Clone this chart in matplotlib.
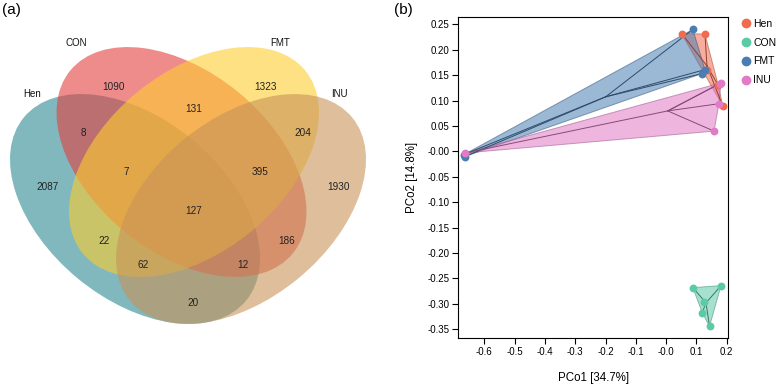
import numpy as np
import matplotlib
matplotlib.use('Agg')
import matplotlib.pyplot as plt
from matplotlib.patches import Ellipse, Polygon
from matplotlib.lines import Line2D

plt.rcParams['font.family'] = ['Liberation Sans', 'DejaVu Sans']

# ---- venn data ----
set_names = ['Hen', 'CON', 'FMT', 'INU']
set_colors = ['#2b8a93', '#e33f3f', '#fccd2f', '#c89358']
region_names = ['Hen', 'CON', 'FMT', 'INU',
                'Hen&CON', 'CON&FMT', 'FMT&INU', 'Hen&FMT', 'Hen&INU', 'CON&INU',
                'Hen&CON&FMT', 'CON&FMT&INU', 'Hen&FMT&INU', 'Hen&CON&INU', 'all']
region_counts = [2087, 1090, 1323, 1930,
                 8, 131, 204, 22, 20, 186,
                 7, 395, 62, 12, 127]

# ---- pcoa data ----
groups = ['Hen', 'CON', 'FMT', 'INU']
group_colors = ['#f26b4e', '#5cc9a7', '#4a7eb3', '#e07bc6']
hen_x = [0.051, 0.128, 0.187, 0.172, 0.135]
hen_y = [0.232, 0.231, 0.089, 0.130, 0.160]
con_x = [0.088, 0.181, 0.126, 0.119, 0.143]
con_y = [-0.268, -0.264, -0.297, -0.317, -0.344]
fmt_x = [0.088, 0.128, 0.117, -0.667, -0.664]
fmt_y = [0.240, 0.161, 0.153, -0.006, -0.010]
inu_x = [0.176, 0.181, 0.174, 0.158, -0.663]
inu_y = [0.133, 0.135, 0.094, 0.040, -0.003]
pc1_label = 'PCo1 [34.7%]'
pc2_label = 'PCo2 [14.8%]'


def hull(pts):
    pts = sorted(set(map(tuple, pts)))
    def cross(o, a, b):
        return (a[0]-o[0])*(b[1]-o[1]) - (a[1]-o[1])*(b[0]-o[0])
    lower, upper = [], []
    for p in pts:
        while len(lower) >= 2 and cross(lower[-2], lower[-1], p) <= 0:
            lower.pop()
        lower.append(p)
    for p in reversed(pts):
        while len(upper) >= 2 and cross(upper[-2], upper[-1], p) <= 0:
            upper.pop()
        upper.append(p)
    return np.array(lower[:-1] + upper[:-1])


def darker(c, f=0.7):
    r, g, b = matplotlib.colors.to_rgb(c)
    return (r*f, g*f, b*f)


fig = plt.figure(figsize=(7.78, 3.84), dpi=100)

# ---------------- (a) venn ----------------
ax = fig.add_axes([0, 0, 390/778, 1])
ax.set_xlim(0, 390)
ax.set_ylim(384, 0)
ax.axis('off')

centers = [(135, 209), (181.5, 162), (194, 162), (241, 209)]
angles = [39.5, 39.5, -39.5, -39.5]
for c, ang, col in zip(centers, angles, set_colors):
    ax.add_patch(Ellipse(c, 288, 180, angle=ang, facecolor=col, alpha=0.6, lw=0))

label_pos = [(32, 94), (76, 43), (280, 43), (339, 94)]
for (x, y), name in zip(label_pos, set_names):
    ax.text(x, y, name, fontsize=7, ha='center', va='center', color='#111111')

count_pos = [(48, 187), (114, 87), (266, 87), (339, 187),
             (83, 133), (194, 109), (303, 133), (104, 241), (193, 303), (287, 241),
             (126, 172), (260, 172), (143, 265), (243, 265), (194, 211)]
for (x, y), n in zip(count_pos, region_counts):
    ax.text(x, y, str(n), fontsize=7.2, ha='center', va='center', color='#222222')

fig.text(0.002, 0.975, '(a)', fontsize=11, ha='left', va='center')
fig.text(0.506, 0.975, '(b)', fontsize=11, ha='left', va='center')

# ---------------- (b) pcoa ----------------
ax2 = fig.add_axes([458.3/778, 1-337.7/384, 270/778, 320.4/384])
data = [(hen_x, hen_y), (con_x, con_y), (fmt_x, fmt_y), (inu_x, inu_y)]
for (gx, gy), col in zip(data, group_colors):
    pts = np.column_stack([gx, gy])
    h = hull(pts)
    ax2.add_patch(Polygon(h, closed=True, facecolor=col, alpha=0.55,
                          edgecolor=darker(col), lw=0.7, zorder=2))
    cx, cy = pts.mean(axis=0)
    for px, py in pts:
        ax2.plot([cx, px], [cy, py], color=darker(col, 0.6), lw=0.7, zorder=3)
for (gx, gy), col in zip(data, group_colors):
    ax2.scatter(gx, gy, s=32, color=col, zorder=4, lw=0)

ax2.set_xlim(-0.686, 0.205)
ax2.set_ylim(-0.3665, 0.264)
ax2.set_xticks(np.arange(-0.6, 0.21, 0.1))
ax2.set_yticks(np.arange(-0.35, 0.26, 0.05))
ax2.xaxis.set_major_formatter(matplotlib.ticker.FormatStrFormatter('%.1f'))
ax2.yaxis.set_major_formatter(matplotlib.ticker.FormatStrFormatter('%.2f'))
ax2.tick_params(labelsize=7, length=4, width=0.8, direction='out', pad=2.5)
for s in ax2.spines.values():
    s.set_linewidth(0.8)
ax2.set_xlabel(pc1_label, fontsize=8.3, labelpad=11)
ax2.set_ylabel(pc2_label, fontsize=8.3, labelpad=7)

handles = [Line2D([], [], marker='o', ls='', color=c, markersize=6) for c in group_colors]
fig.legend(handles, groups, loc='upper left', bbox_to_anchor=(0.947, 0.962),
           frameon=False, fontsize=7.5, handletextpad=0.2, labelspacing=0.85,
           borderaxespad=0, handlelength=1.0)

fig.savefig('out.png', dpi=100)
